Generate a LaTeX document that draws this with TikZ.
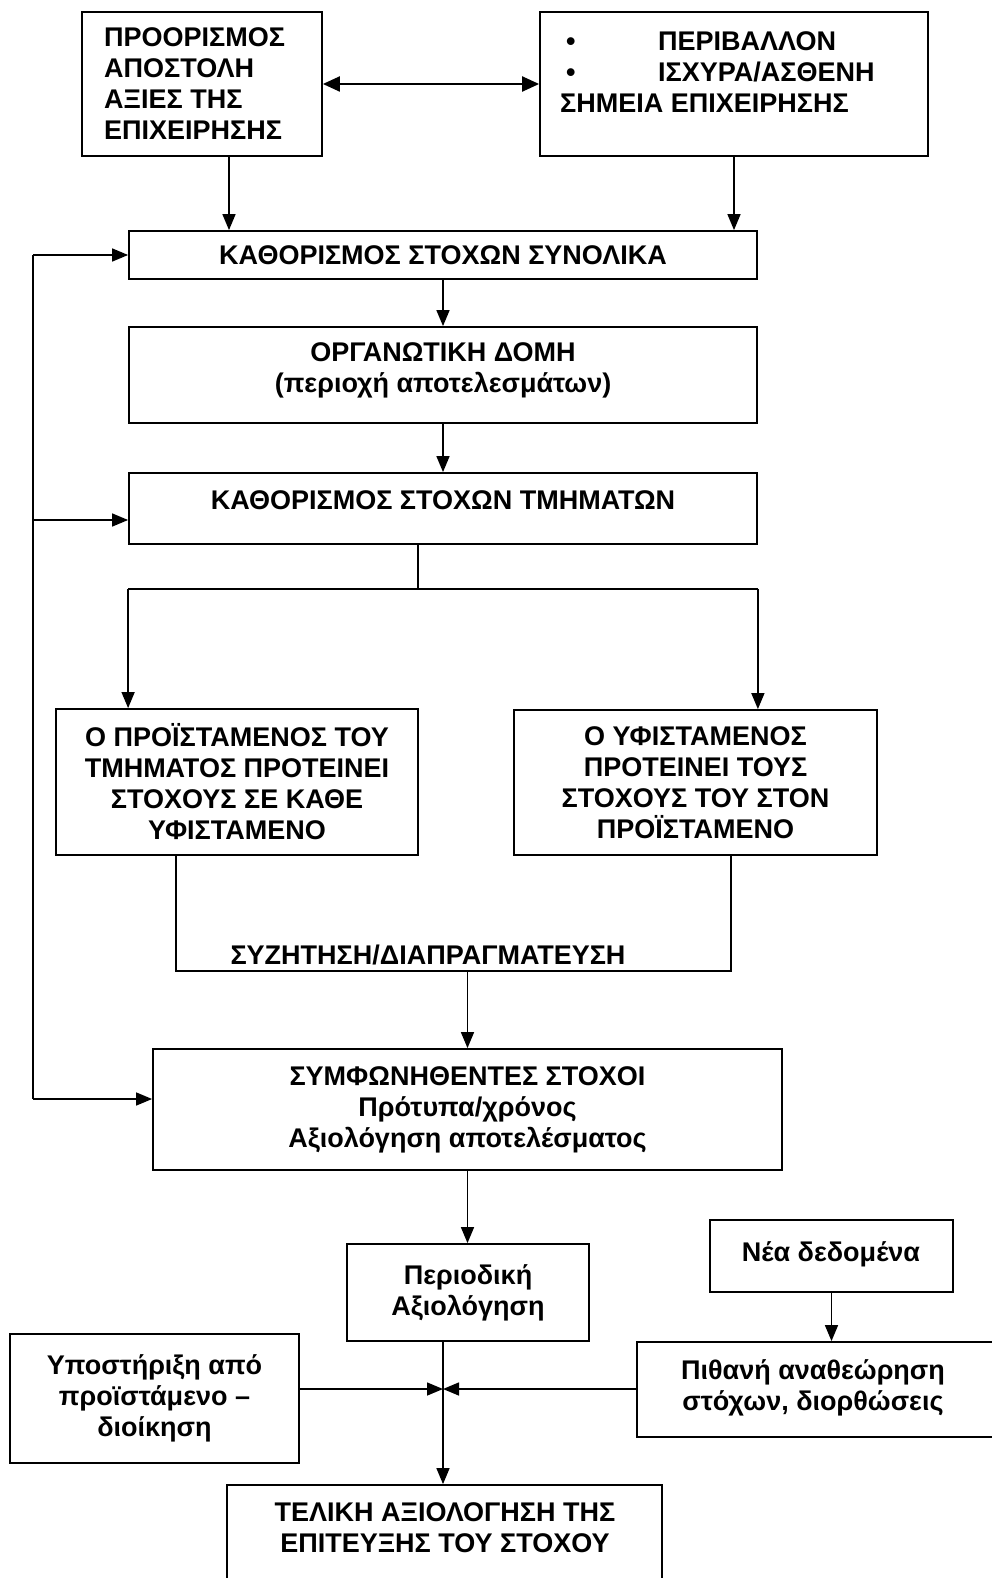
\documentclass[tikz,border=0pt]{standalone}
\usepackage{fontspec}
\setmainfont{Liberation Sans}
\usetikzlibrary{arrows.meta,fit}
\begin{document}
\begin{tikzpicture}[x=1pt,y=-1pt,
  box/.style={draw, line width=1.8pt, inner sep=0pt},
  txt/.style={font=\fontsize{27}{31}\selectfont\bfseries, align=center, inner sep=0pt},
  conn/.style={line width=1.5pt},
  arr/.style={conn, -{Triangle[length=16pt,width=13pt]}},
  dbl/.style={line width=2.2pt, {Triangle[length=17pt,width=15pt]}-{Triangle[length=17pt,width=15pt]}}
]
\useasboundingbox (0,0) rectangle (992,1578);
\fill[white] (0,0) rectangle (992,1578);
\clip (0,0) rectangle (992,1578);

% boxes
\node[box, fit={(82,12) (322,156)}] (b1) {};
\node[box, fit={(540,12) (928,156)}] (b2) {};
\node[box, fit={(129,231) (757,279)}] (b3) {};
\node[box, fit={(129,327) (757,423)}] (b4) {};
\node[box, fit={(129,473) (757,544)}] (b5) {};
\node[box, fit={(56,709) (418,855)}] (b6) {};
\node[box, fit={(514,710) (877,855)}] (b7) {};
\node[box, fit={(153,1049) (782,1170)}] (b8) {};
\node[box, fit={(347,1244) (589,1341)}] (b9) {};
\node[box, fit={(710,1220) (953,1292)}] (b10) {};
\node[box, fit={(637,1342) (1010,1437)}] (b11) {};
\node[box, fit={(10,1334) (299,1463)}] (b12) {};
\node[box, fit={(227,1485) (662,1600)}] (b13) {};

% texts
\node[txt, align=left, anchor=west] (t1) at (104,84)
  {ΠΡΟΟΡΙΣΜΟΣ\\ΑΠΟΣΤΟΛΗ\\ΑΞΙΕΣ ΤΗΣ\\ΕΠΙΧΕΙΡΗΣΗΣ};
\node[txt, align=left, anchor=west] (t2) at (560,72)
  {\hspace*{6pt}\makebox[92pt][l]{•}ΠΕΡΙΒΑΛΛΟΝ\\
   \hspace*{6pt}\makebox[92pt][l]{•}ΙΣΧΥΡΑ/ΑΣΘΕΝΗ\\
   ΣΗΜΕΙΑ ΕΠΙΧΕΙΡΗΣΗΣ};
\node[txt] (t3) at (b3) {ΚΑΘΟΡΙΣΜΟΣ ΣΤΟΧΩΝ ΣΥΝΟΛΙΚΑ};
\node[txt] (t4) at (443,370) {ΟΡΓΑΝΩΤΙΚΗ ΔΟΜΗ\\(περιοχή αποτελεσμάτων)};
\node[txt] (t5) at (443,500) {ΚΑΘΟΡΙΣΜΟΣ ΣΤΟΧΩΝ ΤΜΗΜΑΤΩΝ};
\node[txt] (t6) at (b6) {Ο ΠΡΟΪΣΤΑΜΕΝΟΣ ΤΟΥ\\ΤΜΗΜΑΤΟΣ ΠΡΟΤΕΙΝΕΙ\\ΣΤΟΧΟΥΣ ΣΕ ΚΑΘΕ\\ΥΦΙΣΤΑΜΕΝΟ};
\node[txt] (t7) at (b7) {Ο ΥΦΙΣΤΑΜΕΝΟΣ\\ΠΡΟΤΕΙΝΕΙ ΤΟΥΣ\\ΣΤΟΧΟΥΣ ΤΟΥ ΣΤΟΝ\\ΠΡΟΪΣΤΑΜΕΝΟ};
\node[txt] (t8) at (b8) {ΣΥΜΦΩΝΗΘΕΝΤΕΣ ΣΤΟΧΟΙ\\Πρότυπα/χρόνος\\Αξιολόγηση αποτελέσματος};
\node[txt] (t9) at (b9) {Περιοδική\\Αξιολόγηση};
\node[txt] (t10) at (831,1254) {Νέα δεδομένα};
\node[txt] (t11) at (813,1388) {Πιθανή αναθεώρηση\\στόχων, διορθώσεις};
\node[txt] (t12) at (b12) {Υποστήριξη από\\προϊστάμενο –\\διοίκηση};
\node[txt] (t13) at (445,1528) {ΤΕΛΙΚΗ ΑΞΙΟΛΟΓΗΣΗ ΤΗΣ\\ΕΠΙΤΕΥΞΗΣ ΤΟΥ ΣΤΟΧΟΥ};
\node[txt] (neg) at (428,955) {ΣΥΖΗΤΗΣΗ/ΔΙΑΠΡΑΓΜΑΤΕΥΣΗ};

% top links
\draw[dbl] (b1.east) -- (b2.west);
\draw[arr] ([xshift=27pt]b1.south) -- ([xshift=27pt]b1.south |- b3.north);
\draw[arr] (b2.south) -- (b2.south |- b3.north);
\draw[arr] (b3.south) -- (b4.north);
\draw[arr] (b4.south) -- (b5.north);

% split to the two proposal boxes
\coordinate (split) at ([xshift=-25pt,yshift=-44pt]b5.south);
\draw[conn] ([xshift=-25pt]b5.south) -- (split);
\draw[conn] (split -| b5.west) -- (split -| b5.east);
\draw[arr] (split -| b5.west) -- (b5.west |- b6.north);
\draw[arr] (split -| b5.east) -- (b5.east |- b7.north);

% negotiation
\coordinate (nl) at (176,971);
\coordinate (nr) at (731,971);
\draw[conn] (b6.south -| nl) -- (nl) -- (nr) -- (b7.south -| nr);
\draw[arr] (b8.north |- nl) -- (b8.north);

% feedback loop on the left
\coordinate (fb) at (33,1099);
\coordinate (fbtop) at (b3.west -| fb);
\draw[conn] (fb) -- (fbtop);
\draw[arr] (fbtop) -- (b3.west);
\draw[arr] ([yshift=-11.5pt]b5.west -| fb) -- ([yshift=-11.5pt]b5.west);
\draw[arr] (fb) -- (fb -| b8.west);

% evaluation
\draw[arr] (b8.south) -- (b8.south |- b9.north);
\draw[arr] (b10.south) -- (b10.south |- b11.north);
\coordinate (j) at (443,1389);
\draw[conn] (b9.south -| j) -- (j);
\draw[arr] (j) -- (j |- b13.north);
\draw[arr] (b12.east |- j) -- (j);
\draw[arr] (b11.west |- j) -- (j);
\end{tikzpicture}
\end{document}
